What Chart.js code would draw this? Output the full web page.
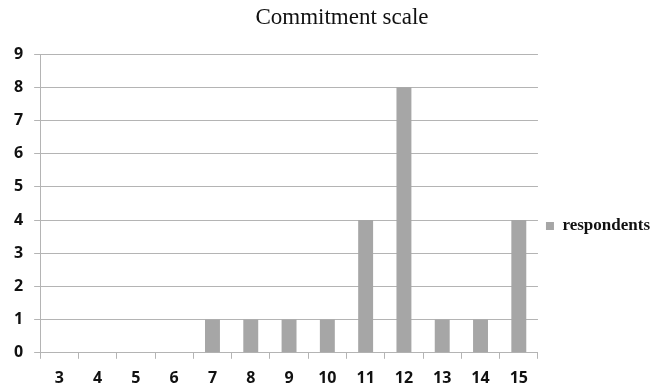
<!DOCTYPE html>
<html>
<head>
<meta charset="utf-8">
<script src="https://cdn.jsdelivr.net/npm/chart.js@4.4.1/dist/chart.umd.min.js"></script>
<style>
  html, body { margin: 0; padding: 0; background: #fff; }
  #wrap { width: 660px; height: 387px; position: relative; }
</style>
</head>
<body>
<div id="wrap"><canvas id="c" width="660" height="387"></canvas></div>
<script>
// Commitment scale scores and how many respondents got each
const scores = ['3', '4', '5', '6', '7', '8', '9', '10', '11', '12', '13', '14', '15'];
const respondents = [0, 0, 0, 0, 1, 1, 1, 1, 4, 8, 1, 1, 4];
const seriesName = 'respondents';
const chartTitle = 'Commitment scale';

const barColor = '#a6a6a6';
const gridColor = '#b4b4b4';
const serif = '"Liberation Serif", "Times New Roman", serif';
const sans = '"Open Sans", sans-serif';

// Title drawn centred above the plot area
const titlePlugin = {
  id: 'plotTitle',
  afterDraw(chart) {
    const ctx = chart.ctx;
    ctx.save();
    ctx.font = '23px ' + serif;
    ctx.fillStyle = '#111';
    ctx.textAlign = 'center';
    ctx.textBaseline = 'middle';
    ctx.fillText(chartTitle, 342, 18);
    ctx.restore();
  }
};

new Chart(document.getElementById('c'), {
  type: 'bar',
  data: {
    labels: scores,
    datasets: [{
      label: seriesName,
      data: respondents,
      backgroundColor: barColor,
      borderWidth: 0,
      categoryPercentage: 1,
      barPercentage: 0.39
    }]
  },
  options: {
    responsive: false,
    animation: false,
    devicePixelRatio: 1,
    layout: { padding: { left: 3, top: 54, right: 0, bottom: -11 } },
    plugins: {
      title: { display: false },
      tooltip: { enabled: false },
      legend: {
        position: 'right',
        align: 'center',
        labels: {
          boxWidth: 8,
          boxHeight: 8,
          padding: 8,
          color: '#111',
          font: { family: serif, size: 17, weight: 'bold' }
        }
      }
    },
    scales: {
      x: {
        offset: true,
        grid: {
          offset: true,
          drawOnChartArea: false,
          drawTicks: true,
          tickLength: 6,
          color: gridColor
        },
        border: { display: true, color: gridColor, width: 1 },
        ticks: {
          color: '#111',
          padding: 10,
          maxRotation: 0,
          font: { family: sans, size: 16, weight: 'bold' }
        }
      },
      y: {
        min: 0,
        max: 9,
        grid: {
          color: gridColor,
          lineWidth: 1,
          drawTicks: true,
          tickLength: 6
        },
        border: { display: true, color: gridColor, width: 1 },
        ticks: {
          stepSize: 1,
          color: '#111',
          padding: 11,
          font: { family: sans, size: 16, weight: 'bold' }
        }
      }
    }
  },
  plugins: [titlePlugin]
});
</script>
</body>
</html>
